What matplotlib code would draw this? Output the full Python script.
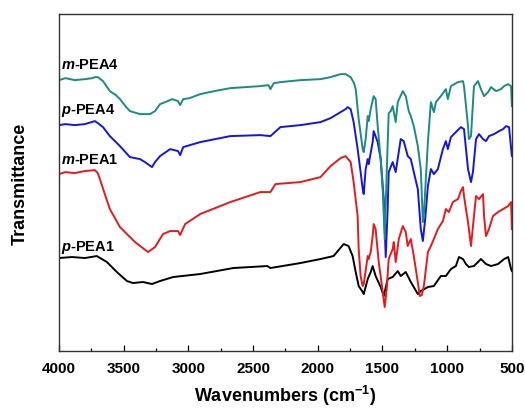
import matplotlib
matplotlib.use("Agg")
import matplotlib.pyplot as plt
from matplotlib.ticker import MultipleLocator

plt.rcParams['font.family'] = ['Liberation Sans', 'DejaVu Sans']
plt.rcParams['mathtext.fontset'] = 'custom'
plt.rcParams['mathtext.rm'] = 'Liberation Sans:bold'
plt.rcParams['mathtext.it'] = 'Liberation Sans:bold:italic'
plt.rcParams['mathtext.bf'] = 'Liberation Sans:bold'

# m-PEA4 (teal)
mpea4_wn = [4000, 3950, 3878, 3800, 3740, 3723, 3700, 3660, 3607, 3560, 3529, 3480, 3452, 3374, 3297,
            3258, 3219, 3160, 3126, 3080, 3064, 3040, 2990, 2909, 2800, 2676, 2560, 2444, 2380, 2366,
            2340, 2289, 2134, 1979, 1901, 1850, 1824, 1785, 1746, 1720, 1707, 1684, 1653, 1645, 1630,
            1614, 1607, 1591, 1568, 1553, 1537, 1514, 1498, 1483, 1467, 1452, 1436, 1421, 1398, 1382,
            1343, 1320, 1297, 1281, 1258, 1227, 1204, 1188, 1180, 1149, 1126, 1103, 1087, 1049, 1010,
            995, 971, 917, 878, 870, 839, 832, 816, 793, 762, 739, 715, 684, 661, 622,
            584, 560, 529, 506, 500]
mpea4_t = [271, 273, 271, 272, 273, 274, 274, 270, 260, 256, 252, 244, 240, 237, 237,
           240, 247, 250, 252, 250, 246, 252, 253, 257, 260, 263, 264, 265, 266, 262,
           268, 269, 271, 272, 274, 276, 277, 277, 274, 268, 262, 232, 202, 199, 212,
           235, 230, 242, 255, 252, 225, 192, 160, 112, 180, 238, 240, 245, 229, 249,
           260, 255, 240, 235, 225, 205, 182, 129, 137, 209, 249, 239, 249, 255, 262,
           252, 265, 269, 270, 265, 225, 212, 215, 265, 270, 262, 255, 259, 264, 260,
           262, 265, 267, 265, 245]

# p-PEA4 (blue)
ppea4_wn = [4000, 3950, 3880, 3800, 3723, 3700, 3660, 3607, 3529, 3452, 3374, 3336, 3281, 3258, 3219,
            3141, 3080, 3064, 3040, 2909, 2676, 2444, 2366, 2289, 2134, 1979, 1901, 1862, 1785, 1769,
            1746, 1723, 1692, 1669, 1653, 1645, 1630, 1614, 1607, 1576, 1568, 1537, 1514, 1490, 1475,
            1460, 1452, 1421, 1398, 1359, 1336, 1305, 1281, 1258, 1227, 1204, 1188, 1170, 1149, 1126,
            1103, 1072, 1033, 1010, 995, 971, 933, 894, 870, 839, 816, 801, 777, 754, 723,
            700, 677, 638, 599, 568, 545, 522, 500]
ppea4_t = [226, 227, 226, 227, 230, 228, 224, 215, 205, 194, 192, 189, 184, 189, 195,
           202, 200, 196, 204, 209, 215, 216, 215, 224, 226, 229, 233, 236, 242, 244,
           242, 229, 202, 179, 162, 157, 182, 192, 187, 209, 220, 209, 192, 152, 94,
           142, 179, 189, 179, 212, 210, 195, 192, 179, 162, 122, 110, 132, 165, 182,
           177, 182, 202, 210, 202, 214, 219, 224, 222, 182, 169, 179, 212, 217, 212,
           210, 215, 217, 220, 222, 225, 224, 195]

# m-PEA1 (red)
mpea1_wn = [4000, 3950, 3880, 3800, 3723, 3700, 3684, 3646, 3607, 3529, 3413, 3312, 3258, 3196, 3141,
            3080, 3064, 3025, 2909, 2676, 2444, 2366, 2327, 2134, 1979, 1901, 1824, 1785, 1746, 1723,
            1692, 1684, 1669, 1653, 1645, 1614, 1607, 1591, 1576, 1568, 1553, 1529, 1498, 1483, 1467,
            1452, 1421, 1413, 1398, 1374, 1343, 1320, 1305, 1281, 1258, 1227, 1212, 1196, 1180, 1149,
            1126, 1103, 1072, 1033, 1010, 987, 956, 917, 894, 878, 870, 855, 839, 816, 793,
            777, 754, 723, 715, 700, 677, 646, 607, 568, 529, 506, 500]
mpea1_t = [177, 179, 178, 180, 181, 178, 172, 157, 142, 124, 109, 99, 104, 117, 120,
           120, 116, 127, 137, 149, 159, 159, 167, 169, 174, 185, 193, 195, 189, 169,
           135, 102, 75, 65, 67, 95, 92, 99, 115, 127, 122, 89, 59, 44, 62,
           92, 102, 109, 89, 112, 125, 119, 105, 112, 95, 69, 55, 56, 65, 99,
           105, 112, 122, 130, 142, 139, 149, 152, 160, 164, 155, 142, 129, 105, 135,
           155, 152, 157, 135, 115, 122, 135, 139, 142, 145, 149, 122]

# p-PEA1 (black)
ppea1_wn = [4000, 3900, 3800, 3708, 3630, 3553, 3475, 3429, 3351, 3281, 3219, 3118, 2909, 2653, 2390,
            2366, 2134, 1979, 1878, 1800, 1762, 1731, 1707, 1684, 1653, 1645, 1614, 1591, 1576, 1553,
            1514, 1490, 1460, 1421, 1382, 1359, 1320, 1281, 1227, 1204, 1149, 1103, 1049, 1010, 971,
            933, 909, 878, 855, 832, 793, 739, 700, 661, 607, 560, 529, 506, 500]
ppea1_t = [93, 94, 93, 95, 89, 79, 70, 68, 69, 67, 70, 74, 77, 83, 85,
           83, 88, 92, 95, 107, 105, 95, 79, 65, 59, 57, 72, 79, 85, 75,
           64, 55, 72, 74, 80, 75, 79, 69, 57, 60, 64, 65, 75, 75, 82,
           85, 94, 92, 87, 84, 85, 92, 87, 85, 87, 92, 94, 82, 80]

series = [
    (ppea1_wn, ppea1_t, '#000000'),
    (mpea1_wn, mpea1_t, '#e8191c'),
    (ppea4_wn, ppea4_t, '#1414e6'),
    (mpea4_wn, mpea4_t, '#1a8c80'),
]
labels = [r'$\it{p}$-PEA1', r'$\it{m}$-PEA1', r'$\it{p}$-PEA4', r'$\it{m}$-PEA4']
label_y = [105, 192, 242, 287]

fig = plt.figure(figsize=(5.25, 4.10), dpi=100)
ax = fig.add_axes([0.1124, 0.1415, 0.8626, 0.8215])
for wn, t, c in series:
    ax.plot(wn, t, color=c, lw=1.4)

for lab, y in zip(labels, label_y):
    ax.text(3985, y, lab, fontsize=10.5, fontweight='bold', ha='left', va='center')

ax.set_xlim(4000, 500)
ax.set_ylim(0, 337)
ax.xaxis.set_major_locator(MultipleLocator(500))
ax.xaxis.set_minor_locator(MultipleLocator(250))
ax.tick_params(axis='x', which='major', direction='in', length=4, width=0.9, labelsize=11, pad=7)
ax.tick_params(axis='x', which='minor', direction='in', length=2.5, width=0.9)
ax.tick_params(axis='y', left=False, labelleft=False)
for lab in ax.get_xticklabels():
    lab.set_fontweight('bold')
for sp in ax.spines.values():
    sp.set_color('#333333')
    sp.set_linewidth(1.0)

ax.set_xlabel(r'Wavenumbers (cm$^{-1}$)', fontsize=13, fontweight='bold', labelpad=6)
ax.set_ylabel('Transmittance', fontsize=13, fontweight='bold', labelpad=22)

fig.savefig('out.png', dpi=100)
